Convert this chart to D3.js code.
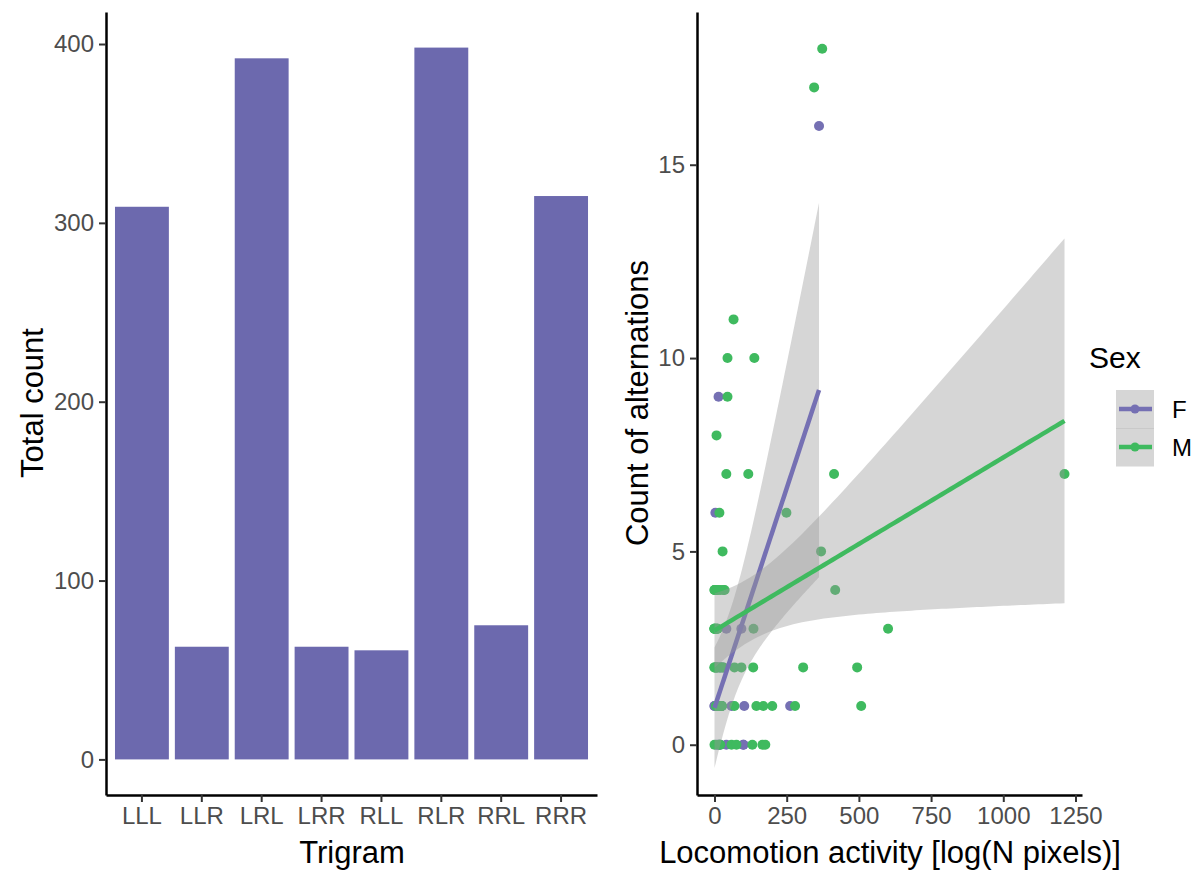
<!DOCTYPE html>
<html>
<head>
<meta charset="utf-8">
<script src="https://d3js.org/d3.v7.min.js"></script>
<style>
  body { margin: 0; background: #fff; }
  text { font-family: "Liberation Sans", Arial, sans-serif; }
</style>
</head>
<body>
<svg width="1203" height="875"></svg>
<script>
// left panel: trigram counts, right panel: alternations vs locomotion by sex

var trigrams = ["LLL", "LLR", "LRL", "LRR", "RLL", "RLR", "RRL", "RRR"];
var totalCounts = [309, 63, 392, 63, 61, 398, 75, 315];

var sexLevels = ["F", "M"];
// many animals sit on top of each other near the origin, so some rows repeat
var femaleActivity     = [362, 14, 3, 17, 41, 93, 0, 59, 103, 262, 7, 41, 100, 20, 25,
                          0, 5, 10, 15, 20, 25, 30, 15, 100];
var femaleAlternations = [16,  9,  6, 2,  3,  3,  1, 1,  1,   1,   0, 0,  0,   0,  1,
                          1, 2, 1,  0,  2,  1,  2,  1,  0];
var maleActivity     = [373, 345, 66, 45, 138, 45, 7, 41, 117, 414, 1212, 17, 249, 28, 369,
                        0, 10, 35, 418, 0, 135, 601, 0, 69, 93, 134, 307, 494,
                        24, 69, 145, 169, 200, 279, 508, 59, 76, 131, 166, 176,
                        0, 5, 10, 15, 20, 25, 30, 10, 20, 15, 5, 25,
                        0, 5, 10, 5, 20, 25, 0, 0, 10, 20, 30, 5, 10, 5, 0, 10, 0, 10];
var maleAlternations = [18, 17, 11, 10, 10, 9, 8, 7, 7, 7, 7, 6, 6, 5, 5,
                        4, 4, 4, 4, 3, 3, 3, 2, 2, 2, 2, 2, 2,
                        1, 1, 1, 1, 1, 1, 1, 0, 0, 0, 0, 0,
                        0, 1, 2, 1, 0, 1, 2, 1, 1, 0, 2, 1,
                        3, 4, 2, 3, 4, 2, 3, 4, 3, 2, 4, 2, 3, 3, 2, 4, 3, 3];

var activityTicks = [0, 250, 500, 750, 1000, 1250];
var alternationTicks = [0, 5, 10, 15];
var countTicks = [0, 100, 200, 300, 400];

var barColor = "#6c69ae";
var sexColor = d3.scaleOrdinal().domain(sexLevels).range(["#7570b3", "#3fba5f"]);

var svg = d3.select("svg");

function styleAxis(g) {
  g.select(".domain").attr("stroke", "#000").attr("stroke-width", 2.5);
  g.selectAll(".tick line").attr("stroke", "#333").attr("stroke-width", 2);
  g.selectAll(".tick text").attr("fill", "#4d4d4d").style("font-size", "24px")
    .style("font-family", "'Liberation Sans', Arial, sans-serif");
}

// ---- bar chart ----
var barX = d3.scaleBand().domain(trigrams).range([106, 597]).paddingInner(0.1).paddingOuter(0.15);
var barY = d3.scaleLinear().domain([-19.9, 417.9]).range([795, 12]);

svg.append("g").selectAll("rect")
  .data(trigrams)
  .enter().append("rect")
  .attr("x", function(d) { return barX(d); })
  .attr("width", barX.bandwidth())
  .attr("y", function(d, i) { return barY(totalCounts[i]); })
  .attr("height", function(d, i) { return barY(0) - barY(totalCounts[i]); })
  .attr("fill", barColor);

svg.append("g").attr("transform", "translate(106,0)")
  .call(d3.axisLeft(barY).tickValues(countTicks).tickSize(7).tickPadding(5).tickSizeOuter(0))
  .call(styleAxis);
svg.append("g").attr("transform", "translate(0,795)")
  .call(d3.axisBottom(barX).tickSize(7).tickPadding(5).tickSizeOuter(0))
  .call(styleAxis);

svg.append("text").attr("x", 352).attr("y", 863).attr("text-anchor", "middle")
  .style("font-size", "31px").text("Trigram");
svg.append("text").attr("transform", "translate(43,403) rotate(-90)").attr("text-anchor", "middle")
  .style("font-size", "31px").text("Total count");

// ---- scatter with linear fits ----
var groups = [
  { sex: "F", x: femaleActivity, y: femaleAlternations },
  { sex: "M", x: maleActivity, y: maleAlternations }
];

function tQuantile975(df) {
  var z = 1.959964;
  var g1 = (Math.pow(z, 3) + z) / 4;
  var g2 = (5 * Math.pow(z, 5) + 16 * Math.pow(z, 3) + 3 * z) / 96;
  var g3 = (3 * Math.pow(z, 7) + 19 * Math.pow(z, 5) + 17 * Math.pow(z, 3) - 15 * z) / 384;
  return z + g1 / df + g2 / (df * df) + g3 / Math.pow(df, 3);
}

// ordinary least squares with 95% confidence band, like geom_smooth(method = "lm")
function linearFit(xs, ys) {
  var n = xs.length, mx = d3.mean(xs), my = d3.mean(ys);
  var sxx = 0, sxy = 0;
  for (var i = 0; i < n; i++) {
    sxx += (xs[i] - mx) * (xs[i] - mx);
    sxy += (xs[i] - mx) * (ys[i] - my);
  }
  var slope = sxy / sxx, intercept = my - slope * mx;
  var rss = 0;
  for (i = 0; i < n; i++) {
    var r = ys[i] - (intercept + slope * xs[i]);
    rss += r * r;
  }
  var s = Math.sqrt(rss / (n - 2)), t = tQuantile975(n - 2);
  var lo = d3.min(xs), hi = d3.max(xs), pts = [];
  for (i = 0; i <= 80; i++) {
    var x = lo + (hi - lo) * i / 80;
    var fit = intercept + slope * x;
    var se = s * Math.sqrt(1 / n + (x - mx) * (x - mx) / sxx);
    pts.push({ x: x, fit: fit, lower: fit - t * se, upper: fit + t * se });
  }
  return pts;
}

var allActivity = femaleActivity.concat(maleActivity);
var actMax = d3.max(allActivity), actMin = d3.min(allActivity);
var pad = (actMax - actMin) * 0.05;
var sx = d3.scaleLinear().domain([actMin - pad, actMax + pad]).range([697, 1082]);
var sy = d3.scaleLinear().domain([-1.3, 18.95]).range([795, 12]);

var points = svg.append("g");
groups.forEach(function(g) {
  points.selectAll(null)
    .data(g.x)
    .enter().append("circle")
    .attr("cx", function(d) { return sx(d); })
    .attr("cy", function(d, i) { return sy(g.y[i]); })
    .attr("r", 5)
    .attr("fill", sexColor(g.sex));
});

var band = d3.area().x(function(d) { return sx(d.x); })
  .y0(function(d) { return sy(d.lower); }).y1(function(d) { return sy(d.upper); });
var line = d3.line().x(function(d) { return sx(d.x); }).y(function(d) { return sy(d.fit); });

groups.forEach(function(g) {
  var pts = linearFit(g.x, g.y);
  svg.append("path").attr("d", band(pts)).attr("fill", "#999").attr("fill-opacity", 0.4);
  svg.append("path").attr("d", line(pts)).attr("fill", "none")
    .attr("stroke", sexColor(g.sex)).attr("stroke-width", 4.5);
});

svg.append("g").attr("transform", "translate(697,0)")
  .call(d3.axisLeft(sy).tickValues(alternationTicks).tickSize(7).tickPadding(5).tickSizeOuter(0))
  .call(styleAxis);
svg.append("g").attr("transform", "translate(0,795)")
  .call(d3.axisBottom(sx).tickValues(activityTicks).tickFormat(d3.format("d"))
    .tickSize(7).tickPadding(5).tickSizeOuter(0))
  .call(styleAxis);

svg.append("text").attr("x", 890).attr("y", 863).attr("text-anchor", "middle")
  .style("font-size", "31px").text("Locomotion activity [log(N pixels)]");
svg.append("text").attr("transform", "translate(648,403) rotate(-90)").attr("text-anchor", "middle")
  .style("font-size", "31px").text("Count of alternations");

// legend
var legend = svg.append("g").attr("transform", "translate(1089,0)");
legend.append("text").attr("x", 0).attr("y", 368).style("font-size", "30px").text("Sex");
var keys = legend.selectAll("g.key").data(sexLevels).enter().append("g")
  .attr("class", "key")
  .attr("transform", function(d, i) { return "translate(27," + (390 + i * 38) + ")"; });
keys.append("rect").attr("width", 38).attr("height", 38.5)
  .attr("fill", "#999").attr("fill-opacity", 0.4);
keys.append("line").attr("x1", 3).attr("x2", 36).attr("y1", 19).attr("y2", 19)
  .attr("stroke", function(d) { return sexColor(d); }).attr("stroke-width", 4.5);
keys.append("circle").attr("cx", 19).attr("cy", 19).attr("r", 4.5)
  .attr("fill", function(d) { return sexColor(d); });
keys.append("text").attr("x", 56).attr("y", 19).attr("dy", "0.36em")
  .style("font-size", "24px").text(function(d) { return d; });
</script>
</body>
</html>
